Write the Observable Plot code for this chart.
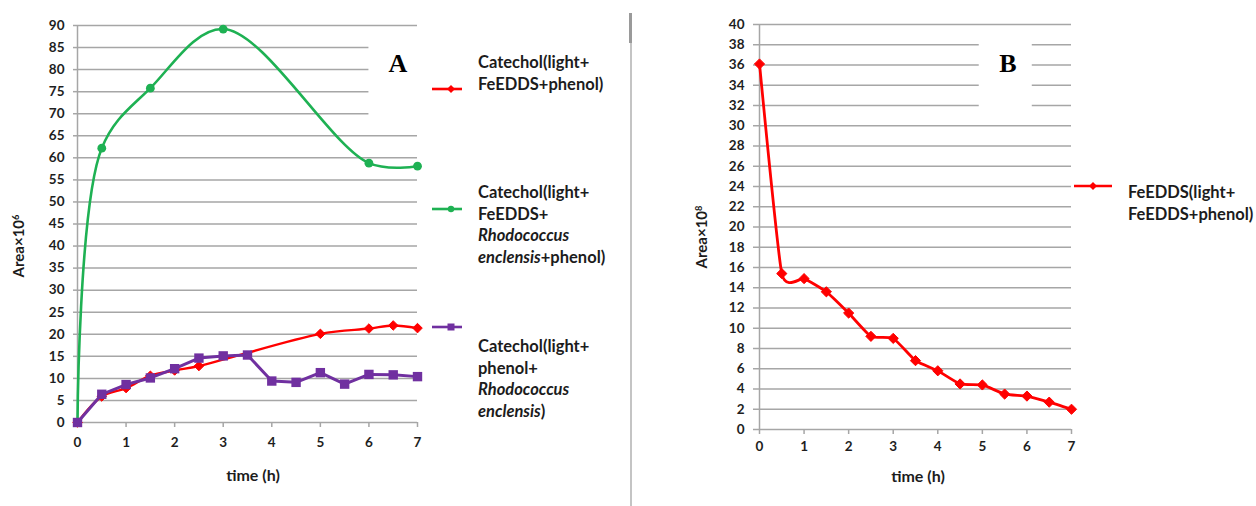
<!DOCTYPE html>
<html>
<head>
<meta charset="utf-8">
<script src="https://cdn.jsdelivr.net/npm/d3@7"></script>
<script src="https://cdn.jsdelivr.net/npm/@observablehq/plot@0.6"></script>
<style>
  body { margin: 0; background: #fff; }
  #wrap { position: relative; width: 1256px; height: 506px; overflow: hidden; background: #fff; }
  .abs { position: absolute; white-space: nowrap; }
  .leg { position: absolute; font: bold 16.5px/21.7px Lato, "Open Sans", sans-serif; color: #1c1c1c; white-space: nowrap; }
  .ytitle { position: absolute; font: bold 15px Lato, sans-serif; color: #1c1c1c; white-space: nowrap; transform: translate(-50%, -50%) rotate(-90deg); }
  .xtitle { position: absolute; font: bold 16px Lato, sans-serif; color: #1c1c1c; white-space: nowrap; transform: translate(-50%, -50%); }
  .panel { position: absolute; font: bold 26px "Liberation Serif", "DejaVu Serif", serif; color: #000; transform: translate(-50%, 0); }
  sup { font-size: 0.62em; vertical-align: 0.55em; line-height: 0; }
</style>
</head>
<body>
<div id="wrap"></div>
<script>
// ---------- data (panel A) ----------
const xTicksA = [0, 1, 2, 3, 4, 5, 6, 7];
const yTicksA = [0, 5, 10, 15, 20, 25, 30, 35, 40, 45, 50, 55, 60, 65, 70, 75, 80, 85, 90];
const redTimeA = [0, 0.5, 1, 1.5, 2, 2.5, 5, 6, 6.5, 7];
const redValuesA = [0, 5.9, 7.8, 10.6, 11.8, 12.8, 20.1, 21.3, 22.0, 21.4];
const greenTimeA = [0, 0.5, 1.5, 3, 6, 7];
const greenValuesA = [0, 62.2, 75.8, 89.2, 58.8, 58.1];
const purpleTimeA = [0, 0.5, 1, 1.5, 2, 2.5, 3, 3.5, 4, 4.5, 5, 5.5, 6, 6.5, 7];
const purpleValuesA = [0, 6.4, 8.6, 10.1, 12.2, 14.6, 15.1, 15.3, 9.4, 9.1, 11.3, 8.7, 10.9, 10.8, 10.4];
const legendA = [
  ["Catechol(light+", "FeEDDS+phenol)"],
  ["Catechol(light+", "FeEDDS+", "<i>Rhodococcus</i>", "<i>enclensis</i>+phenol)"],
  ["Catechol(light+", "phenol+", "<i>Rhodococcus</i>", "<i>enclensis</i>)"]
];

// ---------- data (panel B) ----------
const xTicksB = [0, 1, 2, 3, 4, 5, 6, 7];
const yTicksB = [0, 2, 4, 6, 8, 10, 12, 14, 16, 18, 20, 22, 24, 26, 28, 30, 32, 34, 36, 38, 40];
const timeB = [0, 0.5, 1, 1.5, 2, 2.5, 3, 3.5, 4, 4.5, 5, 5.5, 6, 6.5, 7];
const feeddsValuesB = [36.1, 15.4, 14.9, 13.6, 11.5, 9.2, 9.0, 6.8, 5.8, 4.5, 4.4, 3.5, 3.3, 2.7, 2.0];
const legendB = [["FeEDDS(light+", "FeEDDS+phenol)"]];

// ---------- styling ----------
const RED = "#ff0000", GREEN = "#1eb153", PURPLE = "#7030a0";
const GRID = "#a6a6a6";
const TICKTXT = "#1e1e1e";
const SMOOTH_B = d3.curveCardinal.tension(0.5);

const rows = (xs, ys) => xs.map((t, i) => ({t, v: ys[i]}));
const redA = rows(redTimeA, redValuesA);
const greenA = rows(greenTimeA, greenValuesA);
const purpleA = rows(purpleTimeA, purpleValuesA);
const seriesB = rows(timeB, feeddsValuesB);

const wrap = document.getElementById("wrap");
const svgStyle = "font: bold 13.5px Lato, 'Open Sans', sans-serif; background: transparent; overflow: visible; position: absolute; top: 0;";
const fmt = d => String(d);

// gridlines in A partly hidden behind the "A" label box (values 70–85 stop at t = 6)
const gridFullA = yTicksA.filter(v => v < 70 || v > 85);
const gridCutA = yTicksA.filter(v => v >= 70 && v <= 85);

const plotA = Plot.plot({
  width: 440, height: 506,
  marginLeft: 77, marginRight: 23, marginTop: 25, marginBottom: 84,
  style: svgStyle + "left: 0px;",
  x: {domain: [0, 7]},
  y: {domain: [0, 90]},
  marks: [
    Plot.ruleY(gridFullA, {y: d => d, x1: 0, x2: 7, stroke: GRID, strokeWidth: 1.5}),
    Plot.ruleY(gridCutA, {y: d => d, x1: 0, x2: 6, stroke: GRID, strokeWidth: 1.5}),
    Plot.ruleX([0], {stroke: GRID, strokeWidth: 1.5}),
    Plot.axisY({ticks: yTicksA, tickFormat: fmt, tickSize: 4, tickPadding: 9, stroke: GRID, strokeWidth: 1.5, fill: TICKTXT, label: null}),
    Plot.axisX({ticks: xTicksA, tickFormat: fmt, tickSize: 5, tickPadding: 10, stroke: GRID, strokeWidth: 1.5, fill: TICKTXT, label: null}),
    Plot.line(redA, {x: "t", y: "v", stroke: RED, strokeWidth: 2.4, curve: "catmull-rom"}),
    Plot.dot(redA, {x: "t", y: "v", symbol: "diamond2", r: 4.3, fill: RED, stroke: RED, strokeWidth: 1}),
    Plot.line(greenA, {x: "t", y: "v", stroke: GREEN, strokeWidth: 2.6, curve: "catmull-rom"}),
    Plot.dot(greenA, {x: "t", y: "v", symbol: "circle", r: 4.4, fill: GREEN}),
    Plot.line(purpleA, {x: "t", y: "v", stroke: PURPLE, strokeWidth: 3}),
    Plot.dot(purpleA, {x: "t", y: "v", symbol: "square", r: 5.3, fill: PURPLE})
  ]
});
wrap.appendChild(plotA);

// gridlines in B partly hidden behind the "B" label box (values 32–38 have a gap)
const gridFullB = yTicksB.filter(v => v < 32 || v > 38);
const gridCutB = yTicksB.filter(v => v >= 32 && v <= 38);

const plotB = Plot.plot({
  width: 440, height: 506,
  marginLeft: 119, marginRight: 9, marginTop: 24, marginBottom: 77,
  style: svgStyle + "left: 640px;",
  x: {domain: [0, 7]},
  y: {domain: [0, 40]},
  marks: [
    Plot.ruleY(gridFullB, {y: d => d, x1: 0, x2: 7, stroke: GRID, strokeWidth: 1.5}),
    Plot.ruleY(gridCutB, {y: d => d, x1: 0, x2: 4.93, stroke: GRID, strokeWidth: 1.5}),
    Plot.ruleY(gridCutB, {y: d => d, x1: 6.12, x2: 7, stroke: GRID, strokeWidth: 1.5}),
    Plot.ruleX([0], {stroke: GRID, strokeWidth: 1.5}),
    Plot.axisY({ticks: yTicksB, tickFormat: fmt, tickSize: 6, tickPadding: 9, stroke: GRID, strokeWidth: 1.5, fill: TICKTXT, label: null}),
    Plot.axisX({ticks: xTicksB, tickFormat: fmt, tickSize: 5, tickPadding: 7, stroke: GRID, strokeWidth: 1.5, fill: TICKTXT, label: null}),
    Plot.line(seriesB, {x: "t", y: "v", stroke: RED, strokeWidth: 2.8, curve: SMOOTH_B}),
    Plot.dot(seriesB, {x: "t", y: "v", symbol: "diamond2", r: 4.6, fill: RED, stroke: RED, strokeWidth: 1})
  ]
});
wrap.appendChild(plotB);

// ---------- HTML text & decorations ----------
function addDiv(cls, html, css) {
  const d = document.createElement("div");
  d.className = cls;
  d.innerHTML = html;
  Object.assign(d.style, css);
  wrap.appendChild(d);
  return d;
}

// divider between panels
addDiv("abs", "", {left: "630px", top: "13px", width: "2px", height: "493px", background: "#c4c4c4"});
addDiv("abs", "", {left: "629px", top: "13px", width: "3px", height: "30px", background: "#9a9a9a"});

// panel letters
addDiv("panel", "A", {left: "398px", top: "49px"});
addDiv("panel", "B", {left: "1008px", top: "49px"});

// axis titles
addDiv("ytitle", "Area×10<sup>6</sup>", {left: "18px", top: "246px"});
addDiv("ytitle", "Area×10<sup>8</sup>", {left: "701px", top: "237px"});
addDiv("xtitle", "time (h)", {left: "253px", top: "474px"});
addDiv("xtitle", "time (h)", {left: "918px", top: "475px"});

// legend swatches (line with a small marker)
function swatch(x, y, w, mx, color, shape) {
  const ns = "http://www.w3.org/2000/svg";
  const s = document.createElementNS(ns, "svg");
  s.setAttribute("width", w + 10); s.setAttribute("height", 14);
  s.style.position = "absolute"; s.style.left = (x - 5) + "px"; s.style.top = (y - 7) + "px";
  const l = document.createElementNS(ns, "line");
  l.setAttribute("x1", 5); l.setAttribute("x2", 5 + w); l.setAttribute("y1", 7); l.setAttribute("y2", 7);
  l.setAttribute("stroke", color); l.setAttribute("stroke-width", 2.6);
  s.appendChild(l);
  let m;
  const cx = 5 + mx;
  if (shape === "circle") {
    m = document.createElementNS(ns, "circle");
    m.setAttribute("cx", cx); m.setAttribute("cy", 7); m.setAttribute("r", 3.2);
  } else if (shape === "square") {
    m = document.createElementNS(ns, "rect");
    m.setAttribute("x", cx - 3.5); m.setAttribute("y", 3.5); m.setAttribute("width", 7); m.setAttribute("height", 7);
  } else {
    m = document.createElementNS(ns, "path");
    m.setAttribute("d", `M${cx},3 L${cx + 4},7 L${cx},11 L${cx - 4},7 Z`);
  }
  m.setAttribute("fill", color);
  s.appendChild(m);
  wrap.appendChild(s);
}

const legendColorsA = [RED, GREEN, PURPLE];
const legendShapesA = ["diamond", "circle", "square"];
const legendLineYA = [89, 209, 327];
const legendTextTopA = [52, 182, 336];
legendA.forEach((lines, i) => {
  swatch(432, legendLineYA[i], 30, 19, legendColorsA[i], legendShapesA[i]);
  addDiv("leg", lines.join("<br>"), {left: "478px", top: legendTextTopA[i] + "px"});
});
legendB.forEach((lines) => {
  swatch(1074, 186, 38, 19, RED, "diamond");
  addDiv("leg", lines.join("<br>"), {left: "1128px", top: "182px"});
});
</script>
</body>
</html>
